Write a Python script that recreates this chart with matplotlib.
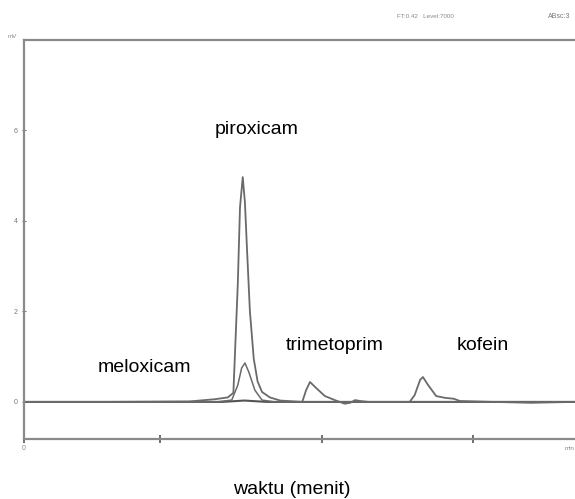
import matplotlib.pyplot as plt

plt.rcParams["font.family"] = ["Liberation Sans", "DejaVu Sans"]

# chromatogram traces (time in min, signal in mV)
t_main = [0.0, 1.5, 3.0, 3.47, 3.70, 3.80, 3.88, 3.92, 3.97, 4.01, 4.05,
          4.10, 4.17, 4.24, 4.32, 4.46, 4.65, 5.05, 5.12, 5.19, 5.30, 5.46,
          5.64, 5.82, 5.92, 6.01, 6.10, 6.25, 7.00, 7.09, 7.19, 7.24, 7.33,
          7.48, 7.64, 7.80, 7.91, 8.50, 9.20, 10.0]
y_main = [0.00, 0.00, 0.01, 0.06, 0.10, 0.20, 2.60, 4.30, 4.97, 4.40, 3.30,
          2.00, 0.95, 0.45, 0.22, 0.10, 0.03, 0.00, 0.26, 0.44, 0.31, 0.13,
          0.04, -0.04, -0.02, 0.04, 0.02, 0.00, 0.00, 0.15, 0.49, 0.55, 0.38,
          0.13, 0.09, 0.07, 0.02, 0.00, -0.02, 0.00]

t_second = [0.0, 3.50, 3.77, 3.88, 3.95, 4.01, 4.08, 4.19, 4.32, 4.55, 10.0]
y_second = [0.00, 0.00, 0.04, 0.37, 0.75, 0.86, 0.66, 0.26, 0.04, 0.00, 0.00]

t_base = [0.0, 3.6, 4.0, 4.4, 10.0]
y_base = [0.0, 0.0, 0.03, 0.0, 0.0]

# compound labels
names = ["piroxicam", "meloxicam", "trimetoprim", "kofein"]
name_x = [4.23, 2.18, 5.64, 8.33]
name_y = [6.03, 0.75, 1.25, 1.25]

xticks = [0, 2.47, 5.41, 8.15]
xticklabels = ["0", "", "", ""]
yticks = [0, 2, 4, 6]

fig = plt.figure(figsize=(5.75, 4.99), dpi=100)
ax = fig.add_axes([24 / 575, 1 - 439 / 499, 1 - 24 / 575, (439 - 40) / 499])

grey = "#6a6a6a"
ax.plot(t_base, y_base, color="#555555", lw=1.5)
ax.plot(t_second, y_second, color=grey, lw=1.1)
ax.plot(t_main, y_main, color=grey, lw=1.3)

ax.set_xlim(0, 10.0)
ax.set_ylim(-0.82, 8.0)

for side in ["left", "top", "bottom"]:
    ax.spines[side].set_color("#8a8a8a")
    ax.spines[side].set_linewidth(1.6)
ax.spines["right"].set_visible(False)

ax.set_yticks(yticks)
ax.set_yticklabels([str(v) for v in yticks], fontsize=5, color="#777777")
ax.set_xticks(xticks)
ax.set_xticklabels(xticklabels, fontsize=5, color="#888888")
ax.tick_params(axis="y", direction="inout", length=3, width=0.8,
               color="#777777", pad=3)
ax.tick_params(axis="x", direction="inout", length=6, width=1.2,
               color="#555555", pad=1)

for name, x, y in zip(names, name_x, name_y):
    ax.text(x, y, name, fontsize=14, ha="center", va="center", color="black")

fig.text(292 / 575, 1 - 490 / 499, "waktu (menit)", fontsize=14,
         ha="center", va="center")

# instrument header and unit labels
fig.text(12 / 575, 1 - 36 / 499, "mV", fontsize=4.5, color="#888888",
         ha="center", va="center")
fig.text(425 / 575, 1 - 16 / 499, "FT:0.42   Level:7000", fontsize=4.5,
         color="#888888", ha="center", va="center")
fig.text(548 / 575, 1 - 17 / 499, "ABsc:3", fontsize=5, color="#777777",
         ha="left", va="center")
fig.text(565 / 575, 1 - 449 / 499, "min", fontsize=4.5, color="#888888",
         ha="left", va="center")

fig.savefig("out.png", dpi=100)
